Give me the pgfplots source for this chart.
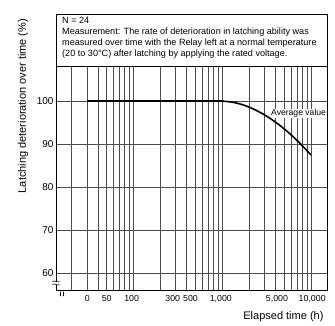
\documentclass[border=0pt]{standalone}
\usepackage{pgfplots}
\pgfplotsset{compat=1.18}
\usepackage{fontspec}
\setmainfont{Liberation Sans}
\begin{document}
\begin{tikzpicture}[x=1pt,y=1pt]
\begin{axis}[
  at={(0,0)}, anchor=south west,
  scale only axis, width=271pt, height=224pt,
  xmode=log, xmin=13.5, xmax=15140,
  ymin=56, ymax=108,
  axis line style={black, line width=0.8pt},
  xtick={20,30,40,50,60,70,80,90,100,200,300,400,500,600,700,800,900,1000,2000,3000,4000,5000,6000,7000,8000,9000,10000},
  xticklabels={},
  extra x ticks={30.3,50.2,95.9,278,440,966,4141,10316},
  extra x tick labels={0,50,100,300,500,{1,000},{5,000},{10,000}},
  extra x tick style={grid=none, major tick length=0pt},
  ytick={60,70,80,90,100},
  major tick length=0pt,
  grid=major,
  major grid style={black!70, line width=0.6pt},
  xticklabel style={font=\fontsize{8.8}{10}\selectfont, yshift=-1pt},
  yticklabel style={font=\fontsize{10}{11}\selectfont, xshift=1pt},
  /pgf/number format/assume math mode=true,
  clip=false,
]
\addplot[black, line width=1.6pt, smooth, tension=0.6] coordinates {
  (1000,100) (1259,99.82) (1585,99.36) (1995,98.65) (2512,97.70) (3162,96.53) (3981,95.14) (5012,93.54) (6310,91.73) (7943,89.71) (10000,87.5)
};
\addplot[black, line width=1.6pt] coordinates {(30,100) (1000,100)};
\node[fill=white, inner sep=0.5pt, font=\fontsize{8.6}{9}\selectfont] at (axis cs:7250,97.2) {Average value};
\end{axis}
% annotation box
\draw[black, line width=0.8pt] (0,224) rectangle (271,276);
\node[anchor=north west, align=left, inner sep=0pt, font=\fontsize{9.1}{11.3}\selectfont] at (6,274.2)
 {N = 24\\Measurement: The rate of deterioration in latching ability was\\measured over time with the Relay left at a normal temperature\\(20 to 30\textdegree C) after latching by applying the rated voltage.};
% axis labels
\node[rotate=90, font=\fontsize{11}{12}\selectfont] at (-33,184.7) {Latching deterioration over time (\%)};
\node[anchor=east, font=\fontsize{11}{12}\selectfont] at (271,-26.3) {Elapsed time (h)};
% break marks
\fill[white] (-3,6.2) rectangle (3,9.2);
\draw[black, line width=0.6pt] (-3.5,6.2) .. controls (-1.5,8) and (1.5,4.4) .. (3.5,6.2);
\draw[black, line width=0.6pt] (-3.5,9.2) .. controls (-1.5,11) and (1.5,7.4) .. (3.5,9.2);
\draw[black, line width=0.6pt] (4.5,-1) .. controls (6,-2.5) and (3,-4) .. (4.5,-5.5);
\draw[black, line width=0.6pt] (7.5,-1) .. controls (9,-2.5) and (6,-4) .. (7.5,-5.5);
\pgfresetboundingbox
\path[use as bounding box] (-56,-34.3) rectangle (279,290.7);
\end{tikzpicture}
\end{document}
